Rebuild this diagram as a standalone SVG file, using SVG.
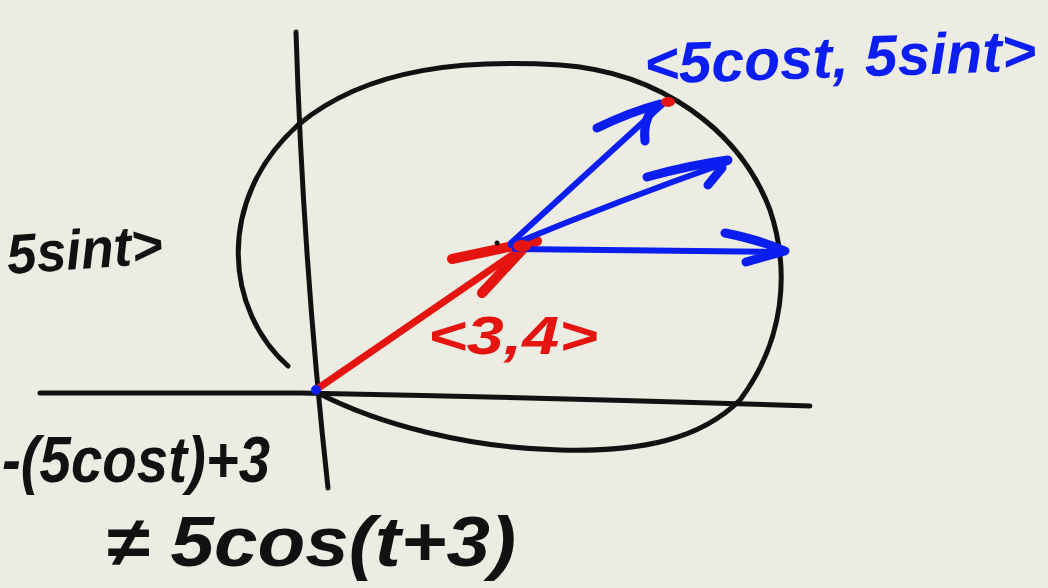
<svg xmlns="http://www.w3.org/2000/svg" width="1048" height="588" viewBox="0 0 1048 588">
<style>
.ink{fill:none;stroke-linecap:round;stroke-linejoin:round}
.k{stroke:#111;stroke-width:5}
.b{stroke:#0b1ef2;stroke-width:6}
.bh{stroke:#0b1ef2;stroke-width:9}
.r{stroke:#e5140f;stroke-width:7}
.rh{stroke:#e5140f;stroke-width:10}
.t{font-family:"Liberation Sans",Arial,sans-serif;font-style:italic;font-weight:bold}
.tk{fill:#111}
.tb{fill:#0b1ef2}
.tr{fill:#e5140f}
</style>
<rect width="1048" height="588" fill="#ecece2"/>
<g id="axes" class="ink k">
<path d="M296,32 Q303,260 328,488"/>
<path d="M40,393 L300,393 Q560,398 810,406"/>
</g>
<g id="circle" class="ink k">
<path d="M288,366 C225,310 215,200 298,125 C370,65 470,60 560,65 C660,72 740,130 770,210 C790,270 785,340 740,400 C700,440 640,452 560,450 C470,448 380,425 318,393"/>
</g>
<g id="connectors">
<g class="ink r">
<path d="M317,389 L525,246"/>
</g>
<g class="ink rh">
<path d="M452,259 L537,241"/>
<path d="M482,293 L522,250"/>
</g>
<g class="ink b">
<path d="M511,243 L664,103"/>
<path d="M511,245 Q620,200 728,162"/>
<path d="M515,249 L783,252"/>
</g>
<g class="ink bh">
<path d="M597,128 Q630,112 660,104"/>
<path d="M645,141 Q643,122 652,110"/>
<path d="M647,177 Q690,165 728,160"/>
<path d="M708,185 L722,168"/>
<path d="M725,233 Q760,240 785,251 L760,258 L746,262"/>
</g>
<circle cx="316" cy="390" r="5" fill="#0b1ef2"/>
<ellipse cx="668" cy="102" rx="7" ry="5" fill="#e5140f"/>
<ellipse cx="522" cy="246" rx="9" ry="6" fill="#e5140f"/>
<circle cx="497" cy="243" r="2.5" fill="#111"/>
</g>
<g id="labels" class="t">
<text class="tb" x="645" y="84" font-size="58" textLength="392" lengthAdjust="spacingAndGlyphs" transform="rotate(-2 645 84)">&lt;5cost, 5sint&gt;</text>
<text class="tk" x="8" y="274" font-size="56" textLength="156" lengthAdjust="spacingAndGlyphs" transform="rotate(-4 8 274)">5sint&gt;</text>
<text class="tk" x="2" y="482" font-size="64" textLength="268" lengthAdjust="spacingAndGlyphs">-(5cost)+3</text>
<text class="tk" x="106" y="566" font-size="70" textLength="410" lengthAdjust="spacingAndGlyphs">≠ 5cos(t+3)</text>
<text class="tr" x="428" y="354" font-size="54" textLength="170" lengthAdjust="spacingAndGlyphs">&lt;3,4&gt;</text>
</g>
</svg>
